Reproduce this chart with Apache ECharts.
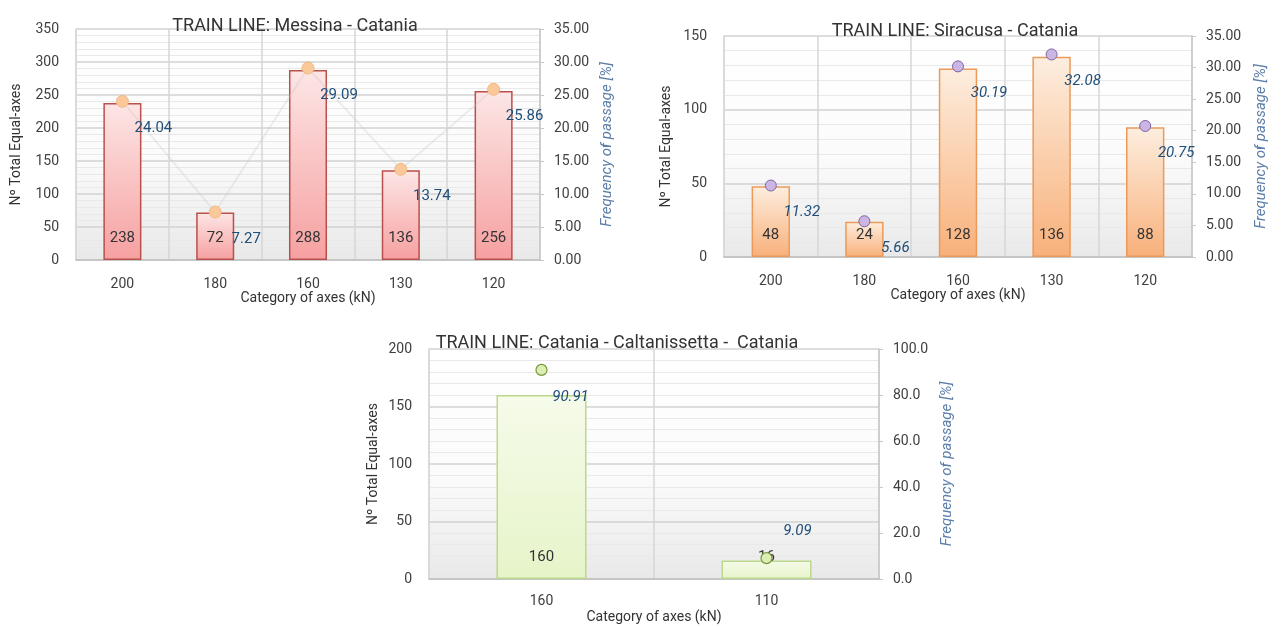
<!DOCTYPE html>
<html>
<head>
<meta charset="utf-8">
<script src="https://cdn.jsdelivr.net/npm/echarts@6/dist/echarts.min.js"></script>
<style>html,body{margin:0;padding:0;background:#fff;}#c{width:1281px;height:627px;}</style>
</head>
<body>
<div id="c"></div>
<script>
// ---- data ----
const titles = ['TRAIN LINE: Messina - Catania', 'TRAIN LINE: Siracusa - Catania', 'TRAIN LINE: Catania - Caltanissetta -  Catania'];
const cat1 = ['200', '180', '160', '130', '120'];
const axes1 = [238, 72, 288, 136, 256];
const freq1 = [24.04, 7.27, 29.09, 13.74, 25.86];
const cat2 = ['200', '180', '160', '130', '120'];
const axes2 = [48, 24, 128, 136, 88];
const freq2 = [11.32, 5.66, 30.19, 32.08, 20.75];
const cat3 = ['160', '110'];
const axes3 = [160, 16];
const freq3 = [90.91, 9.09];
const leftMax = [350, 150, 200];
const rightMax = [35, 35, 100];
const rightInterval = [5, 5, 20];
const rightDecimals = [2, 2, 1];
const xName = 'Category of axes (kN)';
const leftName = 'N\u00ba Total Equal-axes';
const rightName = 'Frequency of passage [%]';

const FONT = 'Roboto';
const chart = echarts.init(document.getElementById('c'));

const grids = [
  {left: 76, right: 741, top: 29, bottom: 367},
  {left: 724, right: 89, top: 36, bottom: 370},
  {left: 429, right: 402, top: 349, bottom: 48}
];
const plotBg = {type: 'linear', x: 0, y: 0, x2: 0, y2: 1, colorStops: [
  {offset: 0, color: '#ffffff'}, {offset: 0.55, color: '#fbfbfb'}, {offset: 1, color: '#e9e9e9'}]};

function grad(top, bottom) {
  return {type: 'linear', x: 0, y: 0, x2: 0, y2: 1, colorStops: [{offset: 0, color: top}, {offset: 1, color: bottom}]};
}

const cats = [cat1, cat2, cat3];
const xAxis = cats.map((c, i) => ({
  type: 'category', gridIndex: i, data: c,
  name: xName, nameLocation: 'middle', nameGap: i === 2 ? 31 : 30,
  nameTextStyle: {fontFamily: FONT, fontSize: 14, color: '#333'},
  axisLine: {lineStyle: {color: '#bfbfbf', width: 1.5}},
  axisTick: {show: false},
  axisLabel: {fontFamily: FONT, fontSize: 14, color: '#404040', margin: i === 2 ? 15 : 17},
  splitLine: {show: true, lineStyle: {color: '#d6d6d6', width: 1.5}}
}));

const yAxis = [];
[0, 1, 2].forEach(i => {
  yAxis.push({
    type: 'value', gridIndex: i, min: 0, max: leftMax[i], interval: 50,
    name: leftName, nameLocation: 'middle', nameRotate: 90, nameGap: [53, 51, 49][i],
    nameTextStyle: {fontFamily: FONT, fontSize: 14, color: '#333'},
    axisLine: {show: true, lineStyle: {color: '#d9d9d9', width: 1.5}},
    axisTick: {show: false},
    axisLabel: {fontFamily: FONT, fontSize: 14, color: '#404040', margin: 17},
    splitLine: {show: true, lineStyle: {color: '#d2d2d2', width: 1.5}},
    minorTick: {show: false, splitNumber: 5},
    minorSplitLine: {show: true, lineStyle: {color: '#e9e9e9', width: 1}}
  });
  yAxis.push({
    type: 'value', gridIndex: i, position: 'right', min: 0, max: rightMax[i], interval: rightInterval[i],
    name: rightName, nameLocation: 'middle', nameRotate: 90, nameGap: [60, 62, 61][i],
    nameTextStyle: {fontFamily: FONT, fontSize: 15, color: '#5b7ea8', fontStyle: 'italic'},
    axisLine: {show: true, lineStyle: {color: '#c8c8c8', width: 1.5}},
    axisTick: {show: true, length: 4, lineStyle: {color: '#c8c8c8'}},
    axisLabel: {fontFamily: FONT, fontSize: 14, color: '#404040', margin: 14,
      formatter: v => v.toFixed(rightDecimals[i])},
    splitLine: {show: false}
  });
});

const barStyles = [
  {color: grad('#fde6e6', '#f6a0a0'), borderColor: '#b9504c', borderWidth: 1.5},
  {color: grad('#fdeedf', '#f8b07a'), borderColor: '#eb9a5a', borderWidth: 1.5},
  {color: grad('#f6fbea', '#e6f4c9'), borderColor: '#bcd88c', borderWidth: 1.5}
];
const markerStyles = [
  {color: '#fbc89a', borderColor: '#f2b884', borderWidth: 1},
  {color: '#cbb6e3', borderColor: '#7f63a6', borderWidth: 1},
  {color: '#dcedb6', borderColor: '#76983a', borderWidth: 1.2}
];
const axesData = [axes1, axes2, axes3];
const freqData = [freq1, freq2, freq3];

const series = [];
[0, 1, 2].forEach(i => {
  series.push({
    type: 'bar', xAxisIndex: i, yAxisIndex: 2 * i, data: axesData[i],
    barWidth: i === 2 ? '40%' : '41%',
    itemStyle: barStyles[i],
    label: {show: true, position: 'insideBottom', distance: 14, fontFamily: FONT, fontSize: 15, color: '#333'},
    z: 2
  });
  const fd = freqData[i].map((v, k) => {
    if (i === 2 && k === 1) return {value: v, label: {offset: [31, -27]}};
    return v;
  });
  series.push({
    type: 'line', xAxisIndex: i, yAxisIndex: 2 * i + 1, data: fd,
    symbol: 'circle', symbolSize: i === 0 ? 12 : 11,
    lineStyle: i === 0 ? {color: 'rgba(200,200,200,0.3)', width: 2} : {width: 0, opacity: 0},
    itemStyle: markerStyles[i],
    label: {show: true, position: 'inside', offset: [i === 2 ? 29 : 31, 27],
      fontFamily: FONT, fontSize: 15, color: '#1f4e79',
      fontStyle: i === 0 ? 'normal' : 'italic',
      formatter: p => p.value.toFixed(2)},
    z: 5
  });
});

chart.setOption({
  backgroundColor: '#ffffff',
  animation: false,
  title: [
    {text: titles[0], left: 290, top: 12, textAlign: 'center', textStyle: {fontFamily: FONT, fontSize: 18, fontWeight: 'normal', color: '#333'}},
    {text: titles[1], left: 950, top: 17, textAlign: 'center', textStyle: {fontFamily: FONT, fontSize: 18, fontWeight: 'normal', color: '#333'}},
    {text: titles[2], left: 612, top: 329, textAlign: 'center', textStyle: {fontFamily: FONT, fontSize: 18, fontWeight: 'normal', color: '#333'}}
  ],
  grid: grids.map(g => Object.assign({show: true, backgroundColor: plotBg, borderWidth: 0}, g)),
  xAxis: xAxis,
  yAxis: yAxis,
  series: series
});
</script>
</body>
</html>
